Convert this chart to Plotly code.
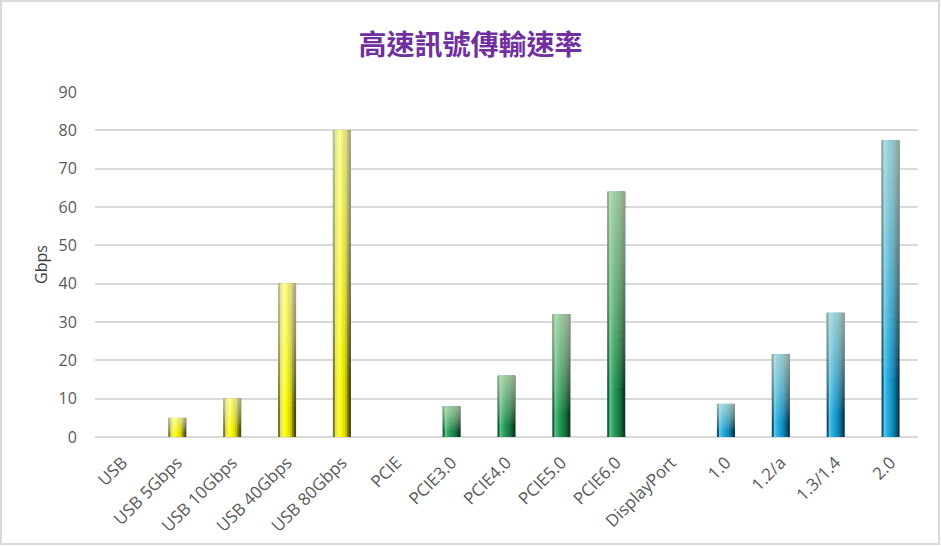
import plotly.graph_objects as go

# data
categories = ["USB", "USB 5Gbps", "USB 10Gbps", "USB 40Gbps", "USB 80Gbps",
              "PCIE", "PCIE3.0", "PCIE4.0", "PCIE5.0", "PCIE6.0",
              "DisplayPort", "1.0", "1.2/a", "1.3/1.4", "2.0"]
gbps = [0, 5, 10, 40, 80,
        0, 8, 16, 32, 64,
        0, 8.64, 21.6, 32.4, 77.37]
family = ["usb"] * 5 + ["pcie"] * 5 + ["dp"] * 5

# left -> right colour profile of each bar (bottom tone), fakes the bevel look
profiles = {
    "usb":  ["#7a7a20", "#e0e060", "#f6f640", "#ffff1a", "#f2f200",
             "#e2e200", "#c4c400", "#7c7c18", "#4a4a16"],
    "pcie": ["#145a32", "#5cc28a", "#38ae6a", "#2a9c5a", "#228c50",
             "#1c7e48", "#186e3e", "#13522e", "#0c3822"],
    "dp":   ["#0e5270", "#5ac4ec", "#32b4e4", "#22a6da", "#1a98cc",
             "#148abc", "#1074a0", "#0c5674", "#08384e"],
}

BAR_W = 0.33
N_STRIP = 9
N_FADE = 24

fig = go.Figure()

# vertical strips -> horizontal shading (slight overlap hides seams)
step = BAR_W / N_STRIP
for k in range(N_STRIP):
    off = -BAR_W / 2 + k * step
    w = min(step * 1.6, BAR_W / 2 - off)
    fig.add_trace(go.Bar(
        x=categories, y=gbps,
        width=w, offset=off,
        marker=dict(color=[profiles[f][k] for f in family], line=dict(width=0)),
        hoverinfo="skip", showlegend=False,
    ))

# stacked translucent layers -> paler towards the top of each bar
for j in range(N_FADE):
    frac = 0.2 + 0.8 * j / N_FADE
    fig.add_trace(go.Bar(
        x=categories, y=[v * (1 - frac) for v in gbps],
        base=[v * frac for v in gbps],
        width=BAR_W, offset=-BAR_W / 2,
        marker=dict(color="rgba(244,244,238,0.036)", line=dict(width=0)),
        hoverinfo="skip", showlegend=False,
    ))

# outer frame of the chart area
L, R, T, B = 95, 23, 92, 109
pw, ph = 941 - L - R, 546 - T - B
fig.add_shape(type="rect", xref="paper", yref="paper",
              x0=-(L - 1) / pw, x1=1 + (R - 2) / pw,
              y0=-(B - 2) / ph, y1=1 + (T - 1) / ph,
              line=dict(color="#d9d9d9", width=2), layer="below")

fig.update_layout(
    width=941, height=546,
    margin=dict(l=L, r=R, t=T, b=B, autoexpand=False),
    barmode="overlay",
    paper_bgcolor="white", plot_bgcolor="white",
    title=dict(text="高速訊號傳輸速率", x=0.5, xanchor="center", y=0.918, yanchor="middle",
               font=dict(family="Noto Sans CJK TC", size=28, weight=600, color="#7030a0")),
    font=dict(family="Open Sans", size=16, color="#595959"),
)
fig.update_xaxes(
    type="category", tickangle=-45, showgrid=False, showline=False, automargin=False,
    ticks="outside", ticklen=8, tickcolor="rgba(0,0,0,0)",
    tickfont=dict(family="Open Sans", size=17, color="#595959"),
)
fig.update_yaxes(
    range=[0, 90], dtick=10, showline=False, automargin=False,
    gridcolor="#d9d9d9", gridwidth=2, zeroline=True, zerolinecolor="#d9d9d9", zerolinewidth=2,
    ticks="outside", ticklen=14, tickcolor="rgba(0,0,0,0)",
    tickfont=dict(family="Open Sans", size=16, color="#595959"),
    title=dict(text="Gbps", font=dict(family="Open Sans", size=16, color="#404040"), standoff=6),
)

# drop the default 8px page margin so the figure sits at the window corner
fig.write_html("out.html", config={"displayModeBar": False},
               post_script="document.body.style.margin='0';")
